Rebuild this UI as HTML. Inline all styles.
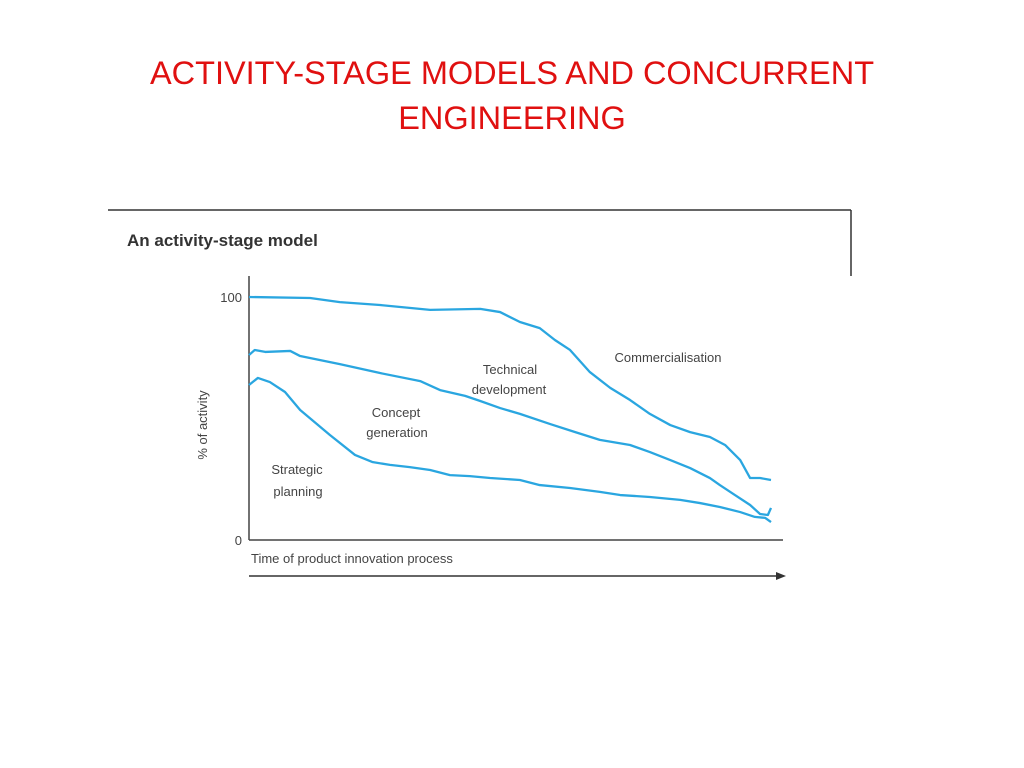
<!DOCTYPE html>
<html><head><meta charset="utf-8"><style>
body{margin:0;width:1024px;height:768px;background:#fff;overflow:hidden;font-family:"Liberation Sans",sans-serif}
.t{position:absolute;left:0;width:1024px;text-align:center;color:#e01010;font-size:32.5px;line-height:45px}
</style></head><body>
<div class="t" style="top:51px">ACTIVITY-STAGE MODELS AND CONCURRENT<br>ENGINEERING</div>
<svg width="1024" height="768" style="position:absolute;left:0;top:0">
<line x1="108" y1="210" x2="851" y2="210" stroke="#333" stroke-width="1.5"/>
<line x1="851" y1="210" x2="851" y2="276" stroke="#333" stroke-width="1.5"/>
<text x="127" y="246" font-size="17" font-weight="bold" fill="#333">An activity-stage model</text>
<line x1="249" y1="276" x2="249" y2="540" stroke="#444" stroke-width="1.5"/>
<line x1="249" y1="540" x2="783" y2="540" stroke="#444" stroke-width="1.5"/>
<text x="242" y="302" font-size="13" fill="#444" text-anchor="end">100</text>
<text x="242" y="545" font-size="13" fill="#444" text-anchor="end">0</text>
<text transform="translate(207,425) rotate(-90)" font-size="13" fill="#444" text-anchor="middle">% of activity</text>
<text x="251" y="563" font-size="13" fill="#444">Time of product innovation process</text>
<line x1="249" y1="576" x2="778" y2="576" stroke="#333" stroke-width="1.5"/>
<polygon points="786,576 776,572 776,580" fill="#333"/>
<g font-size="13" fill="#444" text-anchor="middle">
<text x="297" y="474">Strategic</text>
<text x="298" y="496">planning</text>
<text x="396" y="417">Concept</text>
<text x="397" y="437">generation</text>
<text x="510" y="374">Technical</text>
<text x="509" y="394">development</text>
<text x="668" y="362">Commercialisation</text>
</g>
<g id="lines"></g>
</svg>
<script>
const topT=[0,11.7,17.4,25.1,34.7,44.3,48.1,51.9,55.7,58.6,61.5,65.3,69.2,73,76.8,80.7,84.5,88.3,91.2,94.1,96,97.9,100];
const topV=[100,99.6,97.9,96.7,94.7,95.1,93.8,89.7,87.2,82.3,78.2,69.1,62.6,57.6,51.9,47.3,44.4,42.4,39.1,32.9,25.5,25.5,24.7];
const midT=[0,1.1,3.1,7.9,9.8,17.4,25.1,32.8,36.6,41.4,44.3,48.1,51.9,57.7,62.5,67.2,73,76.8,80.7,84.5,88.3,90.2,93.1,96,97.9,99.4,100];
const midV=[76.1,78.2,77.4,77.8,75.7,72.4,68.7,65.4,61.7,59.3,57.2,54.3,51.9,47.7,44.4,41.2,39.1,36.2,32.9,29.6,25.5,22.6,18.5,14.4,10.7,10.3,13.2];
const botT=[0,1.7,4,6.9,9.8,15.5,20.3,23.6,27,30.8,34.7,38.5,42.3,46.2,51.9,55.7,61.5,67.2,71.1,76.8,82.6,86.4,90.2,94.1,96.9,98.9,100];
const botV=[63.8,66.7,65,60.9,53.5,43.2,35,32.1,30.9,30,28.8,26.7,26.3,25.5,24.7,22.6,21.4,19.8,18.5,17.7,16.5,15.2,13.6,11.5,9.5,9.1,7.4];
const xs=t=>249+t*5.22, ys=v=>540-v*2.43;
const g=document.getElementById('lines');
function draw(T,V,name){
  const p=document.createElementNS('http://www.w3.org/2000/svg','polyline');
  p.setAttribute('points',T.map((t,i)=>xs(t)+','+ys(V[i])).join(' '));
  p.setAttribute('fill','none');p.setAttribute('stroke','#2aa6e0');p.setAttribute('stroke-width','2.3');
  p.setAttribute('stroke-linejoin','round');
  
  
  g.appendChild(p);
}
draw(topT,topV,'line-commercialisation-boundary');
draw(midT,midV,'line-technical-boundary');
draw(botT,botV,'line-concept-boundary');
</script>
</body></html>
